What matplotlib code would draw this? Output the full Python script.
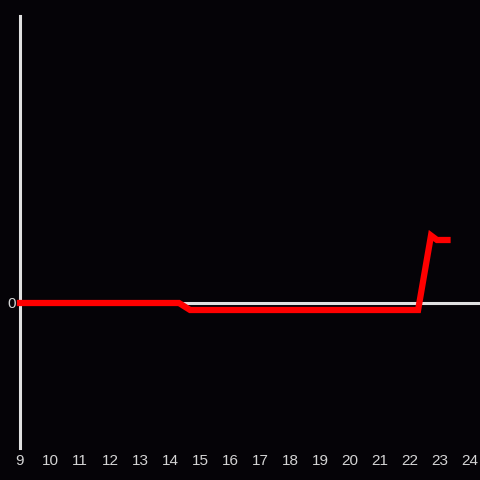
import matplotlib
matplotlib.use("Agg")
import matplotlib.pyplot as plt

# data: hour of day vs value (arbitrary units)
hours = [9.0, 14.3, 14.67, 22.27, 22.7, 22.9, 23.25]
values = [0.0, 0.0, -0.07, -0.07, 0.675, 0.63, 0.63]
xticks = list(range(9, 25))

bg = "#050307"
fg = "#e0e0e0"

fig = plt.figure(figsize=(4.8, 4.8), dpi=100, facecolor=bg)
ax = fig.add_axes([20/480, 32/480, 460/480, 432/480])
ax.set_facecolor(bg)

ax.axhline(0, color=fg, lw=2.2, zorder=1)
ax.plot(hours, values, color="#ff0000", lw=4.5, solid_joinstyle="miter",
        solid_capstyle="projecting", zorder=3, clip_on=False)

ax.set_xlim(9, 24 + 10/30)
ax.set_ylim(-1.45, 2.87)
ax.set_xticks(xticks)
ax.set_xticklabels([str(t) for t in xticks])
ax.set_yticks([0])
ax.set_yticklabels(["0"])
ax.tick_params(axis="both", length=0, colors="#d4d4d4", labelsize=11)
ax.tick_params(axis="x", pad=4)
ax.tick_params(axis="y", pad=3)
for lab in ax.get_xticklabels() + ax.get_yticklabels():
    lab.set_family("Liberation Sans")
for s in ["top", "right", "bottom"]:
    ax.spines[s].set_visible(False)
ax.spines["left"].set_color(fg)
ax.spines["left"].set_linewidth(2.2)
ax.spines["left"].set_zorder(2)

fig.savefig("out.png", dpi=100, facecolor=bg)
